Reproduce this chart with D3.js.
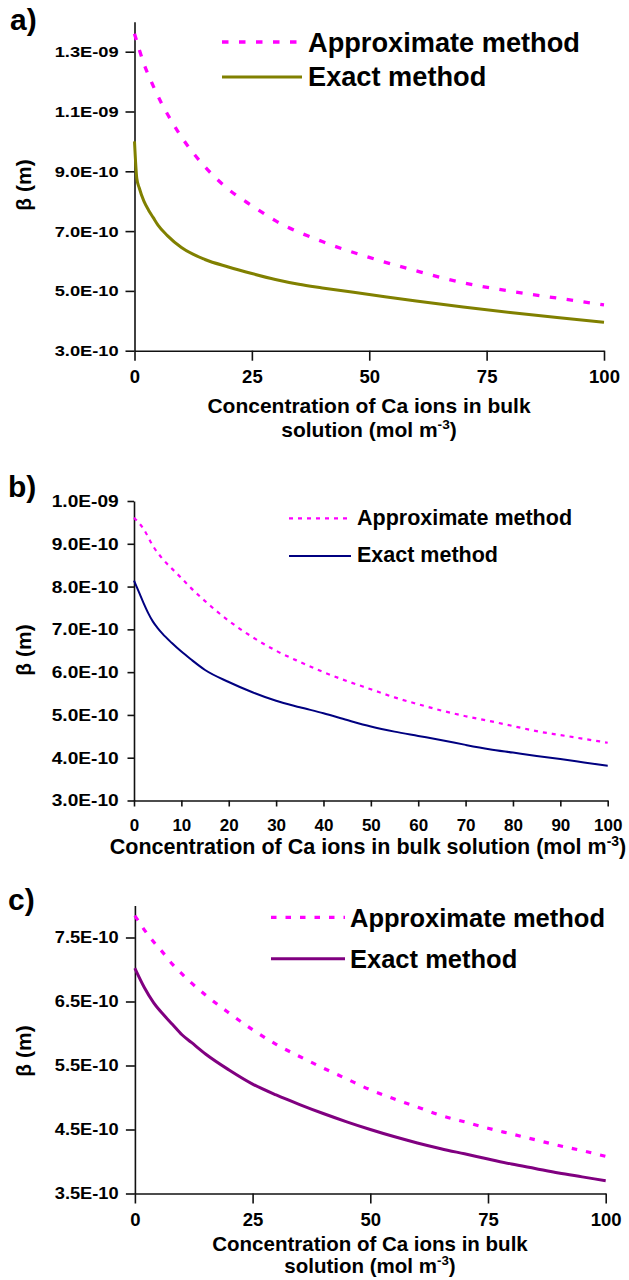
<!DOCTYPE html>
<html>
<head>
<meta charset="utf-8">
<script src="https://cdn.jsdelivr.net/npm/d3@7"></script>
<style>
  body { margin: 0; background: #fff; }
  text { font-family: "Liberation Sans", Arial, Helvetica, sans-serif; font-weight: bold; fill: #000; }
</style>
</head>
<body>
<svg id="chart" width="629" height="1280"></svg>
<script>
// ---- data (beta in metres, concentration in mol m-3) ----
var seriesNames = ['Approximate method', 'Exact method'];

// panel a
var concA_approx = [0, 2, 4, 6, 8, 10, 15, 20, 25, 30, 40, 50, 60, 70, 80, 90, 100];
var betaA_approx = [13.6e-10, 12.6e-10, 11.85e-10, 11.2e-10, 10.65e-10, 10.15e-10, 9.15e-10, 8.4e-10, 7.85e-10, 7.35e-10, 6.65e-10, 6.12e-10, 5.67e-10, 5.27e-10, 4.99e-10, 4.76e-10, 4.53e-10];
var concA_exact = [0, 0.5, 1, 2, 3, 4, 5, 7, 10, 15, 20, 25, 30, 35, 40, 50, 60, 70, 80, 90, 100];
var betaA_exact = [10.0e-10, 8.75e-10, 8.45e-10, 8.0e-10, 7.7e-10, 7.45e-10, 7.2e-10, 6.85e-10, 6.45e-10, 6.05e-10, 5.8e-10, 5.58e-10, 5.38e-10, 5.22e-10, 5.1e-10, 4.88e-10, 4.66e-10, 4.46e-10, 4.28e-10, 4.11e-10, 3.95e-10];
var xTicksA = [0, 25, 50, 75, 100];
var yTicksA = [3e-10, 5e-10, 7e-10, 9e-10, 1.1e-9, 1.3e-9];

// panel b
var concB_approx = [0, 2, 4, 6, 8, 10, 12, 15, 20, 25, 30, 35, 40, 45, 50, 55, 60, 65, 70, 75, 80, 85, 90, 95, 100];
var betaB_approx = [9.61e-10, 9.35e-10, 8.95e-10, 8.65e-10, 8.42e-10, 8.2e-10, 7.97e-10, 7.66e-10, 7.2e-10, 6.82e-10, 6.5e-10, 6.24e-10, 6.0e-10, 5.79e-10, 5.6e-10, 5.41e-10, 5.25e-10, 5.1e-10, 4.97e-10, 4.86e-10, 4.74e-10, 4.62e-10, 4.53e-10, 4.44e-10, 4.35e-10];
var concB_exact = [0, 1, 2, 3, 4, 5, 6, 8, 10, 12, 15, 20, 25, 30, 35, 40, 45, 50, 55, 60, 65, 70, 75, 80, 85, 90, 95, 100];
var betaB_exact = [8.14e-10, 7.88e-10, 7.62e-10, 7.38e-10, 7.18e-10, 7.03e-10, 6.9e-10, 6.68e-10, 6.48e-10, 6.3e-10, 6.05e-10, 5.77e-10, 5.53e-10, 5.33e-10, 5.18e-10, 5.04e-10, 4.88e-10, 4.73e-10, 4.61e-10, 4.51e-10, 4.41e-10, 4.3e-10, 4.2e-10, 4.12e-10, 4.04e-10, 3.97e-10, 3.89e-10, 3.81e-10];
var xTicksB = [0, 10, 20, 30, 40, 50, 60, 70, 80, 90, 100];
var yTicksB = [3e-10, 4e-10, 5e-10, 6e-10, 7e-10, 8e-10, 9e-10, 1.0e-9];

// panel c
var concC = [0, 2, 4, 6, 8, 10, 12, 15, 20, 25, 30, 35, 40, 45, 50, 55, 60, 65, 70, 75, 80, 85, 90, 95, 100];
var betaC_approx = [7.84e-10, 7.62e-10, 7.43e-10, 7.26e-10, 7.08e-10, 6.93e-10, 6.79e-10, 6.6e-10, 6.32e-10, 6.06e-10, 5.83e-10, 5.64e-10, 5.46e-10, 5.29e-10, 5.12e-10, 4.98e-10, 4.85e-10, 4.72e-10, 4.62e-10, 4.52e-10, 4.43e-10, 4.34e-10, 4.25e-10, 4.17e-10, 4.08e-10];
var betaC_exact = [7.02e-10, 6.72e-10, 6.48e-10, 6.3e-10, 6.14e-10, 5.98e-10, 5.86e-10, 5.68e-10, 5.43e-10, 5.21e-10, 5.04e-10, 4.89e-10, 4.75e-10, 4.62e-10, 4.5e-10, 4.39e-10, 4.29e-10, 4.2e-10, 4.12e-10, 4.04e-10, 3.96e-10, 3.89e-10, 3.82e-10, 3.76e-10, 3.70e-10];
var xTicksC = [0, 25, 50, 75, 100];
var yTicksC = [3.5e-10, 4.5e-10, 5.5e-10, 6.5e-10, 7.5e-10];

// "1.3E-09" style labels
function sci(v) {
  return v.toExponential(1).toUpperCase().replace(/E([+-])(\d)$/, function (m, s, d) { return 'E' + s + '0' + d; });
}

function zip(xs, ys) { return xs.map(function (x, i) { return [x, ys[i]]; }); }

var svg = d3.select('#chart');

function drawPanel(p) {
  var g = svg.append('g');
  var x = d3.scaleLinear().domain([0, 100]).range([p.left, p.right]);
  var y = d3.scaleLinear().domain(p.yDomain).range([p.bottom, p.top]);

  // y axis
  var yAxis = g.append('g')
    .attr('transform', 'translate(' + p.left + ',0)')
    .call(d3.axisLeft(y).tickValues(p.yTicks).tickFormat(sci)
      .tickSize(p.yTick).tickSizeOuter(0).tickPadding(p.yPad));
  yAxis.selectAll('text')
    .style('font-size', p.yFont + 'px')
    .attr('transform', 'scale(' + p.ySx + ',1)');

  // x axis
  var xAxis = g.append('g')
    .attr('transform', 'translate(0,' + p.bottom + ')')
    .call(d3.axisBottom(x).tickValues(p.xTicks).tickFormat(d3.format('d'))
      .tickSize(p.xTick).tickSizeOuter(0));
  xAxis.selectAll('text')
    .style('font-size', p.xFont + 'px')
    .attr('dy', null)
    .attr('y', p.xLabelY);

  g.selectAll('.domain, .tick line').attr('stroke', '#111').attr('stroke-width', 1.6);

  // lines
  var line = d3.line().x(function (d) { return x(d[0]); }).y(function (d) { return y(d[1]); })
    .curve(d3.curveMonotoneX);
  g.append('path').datum(zip(p.approxX, p.approxY))
    .attr('fill', 'none').attr('stroke', '#ff00ff')
    .attr('stroke-width', p.dashW).attr('stroke-dasharray', p.dash)
    .attr('d', line);
  g.append('path').datum(zip(p.exactX, p.exactY))
    .attr('fill', 'none').attr('stroke', p.color)
    .attr('stroke-width', p.lineW)
    .attr('d', line);

  // legend
  var L = p.legend;
  g.append('line').attr('x1', L.x1).attr('x2', L.x2).attr('y1', L.y1).attr('y2', L.y1)
    .attr('stroke', '#ff00ff').attr('stroke-width', p.dashW).attr('stroke-dasharray', p.dash);
  g.append('line').attr('x1', L.x1).attr('x2', L.x2).attr('y1', L.y2).attr('y2', L.y2)
    .attr('stroke', p.color).attr('stroke-width', p.lineW);
  g.append('text').attr('x', L.tx).attr('y', L.b1).style('font-size', L.font + 'px').text(seriesNames[0]);
  g.append('text').attr('x', L.tx).attr('y', L.b2).style('font-size', L.font + 'px').text(seriesNames[1]);

  // panel letter
  g.append('text').attr('x', p.letterX).attr('y', p.letterY).style('font-size', '30px').text(p.letter);

  // y title
  g.append('text')
    .attr('transform', 'translate(31,' + p.yTitleY + ') rotate(-90)')
    .attr('text-anchor', 'middle').style('font-size', '21px')
    .text('\u03b2 (m)');

  // x title
  var lines = p.xTitle;
  lines.forEach(function (t, i) {
    var txt = g.append('text')
      .attr('x', p.xTitleX).attr('y', p.xTitleY[i])
      .attr('text-anchor', 'middle').style('font-size', p.xTitleFont + 'px');
    if (t.indexOf('^') < 0) { txt.text(t); return; }
    var parts = t.split('^');
    txt.append('tspan').text(parts[0]);
    txt.append('tspan').attr('dy', -8).style('font-size', (p.xTitleFont * 0.65) + 'px').text(parts[1]);
    txt.append('tspan').attr('dy', 8).text(')');
  });
}

drawPanel({
  letter: 'a)', letterX: 10, letterY: 29.5,
  left: 134.5, right: 604, top: 21.8, bottom: 350.7,
  yDomain: [3e-10, 1.4e-9], yTicks: yTicksA, xTicks: xTicksA,
  yTick: 9, yPad: 4.4, yFont: 15.5, ySx: 1.18,
  xTick: 10, xFont: 18.5, xLabelY: 32.6,
  approxX: concA_approx, approxY: betaA_approx, exactX: concA_exact, exactY: betaA_exact,
  color: '#808000', lineW: 3, dashW: 3.3, dash: '6.5,10.5',
  legend: { x1: 222, x2: 302, y1: 42, y2: 77, tx: 308, b1: 52, b2: 86, font: 27.2 },
  yTitleY: 185,
  xTitle: ['Concentration of Ca ions in bulk', 'solution (mol m^-3'],
  xTitleX: 369, xTitleY: [412.7, 437], xTitleFont: 21
});

drawPanel({
  letter: 'b)', letterX: 8, letterY: 497,
  left: 134, right: 607.7, top: 501, bottom: 800.5,
  yDomain: [3e-10, 1.0e-9], yTicks: yTicksB, xTicks: xTicksB,
  yTick: 6.5, yPad: 7.1, yFont: 17, ySx: 1.126,
  xTick: 6, xFont: 17, xLabelY: 30.2,
  approxX: concB_approx, approxY: betaB_approx, exactX: concB_exact, exactY: betaB_exact,
  color: '#000080', lineW: 2, dashW: 2.2, dash: '4,5',
  legend: { x1: 289, x2: 351, y1: 518.3, y2: 556, tx: 357, b1: 525, b2: 561.7, font: 21.5 },
  yTitleY: 650,
  xTitle: ['Concentration of Ca ions in bulk solution (mol m^-3'],
  xTitleX: 368, xTitleY: [854], xTitleFont: 21.5
});

drawPanel({
  letter: 'c)', letterX: 8, letterY: 910,
  left: 134.9, right: 605.7, top: 905.5, bottom: 1193.5,
  yDomain: [3.5e-10, 8e-10], yTicks: yTicksC, xTicks: xTicksC,
  yTick: 9, yPad: 5.5, yFont: 16.3, ySx: 1.12,
  xTick: 10, xFont: 18.5, xLabelY: 32.7,
  approxX: concC, approxY: betaC_approx, exactX: concC, exactY: betaC_exact,
  color: '#800080', lineW: 3, dashW: 3.2, dash: '5.5,9',
  legend: { x1: 271, x2: 345, y1: 917.3, y2: 958.7, tx: 350, b1: 926.7, b2: 968.3, font: 25.5 },
  yTitleY: 1051,
  xTitle: ['Concentration of Ca ions in bulk', 'solution (mol m^-3'],
  xTitleX: 370, xTitleY: [1251, 1273], xTitleFont: 20.5
});
</script>
</body>
</html>
